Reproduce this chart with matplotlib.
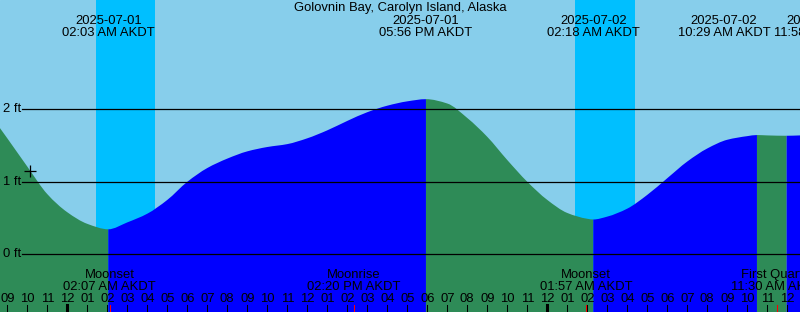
import numpy as np
import matplotlib
matplotlib.use("Agg")
import matplotlib.pyplot as plt
import matplotlib.transforms as mtransforms
from matplotlib.path import Path
from matplotlib.patches import PathPatch

plt.rcParams['font.family'] = ['Liberation Sans', 'DejaVu Sans']

# hours counted from 2025-07-01 00:00 AKDT
view_start, view_end = -3.365, 36.635

# tide level read roughly every hour (ft)
sample_hours = [-3.365, -3, -2, -1, 0, 1, 3, 4, 5, 6, 7, 8, 9, 10, 11, 12,
                13, 14, 15, 16, 17, 19, 20, 21, 22, 23, 24, 25, 26, 27,
                28, 29, 30, 31, 32, 33, 34, 35, 36.635]
sample_levels = [1.74, 1.60, 1.21, 0.83, 0.58, 0.42, 0.44, 0.56, 0.75,
                 1.00, 1.19, 1.32, 1.42, 1.48, 1.52, 1.60, 1.71, 1.84, 1.96,
                 2.05, 2.11, 2.08, 1.88, 1.62, 1.30, 1.00, 0.75, 0.57,
                 0.49, 0.52, 0.63, 0.82, 1.05, 1.28, 1.46, 1.58, 1.63, 1.64,
                 1.64]

# high / low events
event_hours = [2 + 3/60, 17 + 56/60, 24 + 2 + 18/60, 24 + 10 + 29/60, 24 + 11 + 58/60]
event_levels = [0.345, 2.14, 0.48, 1.645, 1.635]
event_dates = ["2025-07-01", "2025-07-01", "2025-07-02", "2025-07-02", "2025-07-02"]
event_times = ["02:03 AM AKDT", "05:56 PM AKDT", "02:18 AM AKDT", "10:29 AM AKDT", "11:58 AM AKDT"]
event_label_shift = [0, 0, 0, -1.65, 1.65]  # labels pushed apart when crowded

# night (between sunset and sunrise)
night_start = [1 + 26/60, 24 + 1 + 23/60]
night_end = [4 + 23/60, 24 + 4 + 23/60]

# moon events
moon_hours = [2 + 7/60, 14 + 20/60, 24 + 1 + 57/60, 24 + 11 + 30/60]
moon_names = ["Moonset", "Moonrise", "Moonset", "First Quarter"]
moon_times = ["02:07 AM AKDT", "02:20 PM AKDT", "01:57 AM AKDT", "11:30 AM AKDT"]

now_hour, now_level = -1.865, 1.15
depth_lines = [0, 1, 2]
title = "Golovnin Bay, Carolyn Island, Alaska"

W, H = 800, 312
FS = 9.4
y_bottom, y_top = -0.796, 3.508

fig = plt.figure(figsize=(W / 100, H / 100), dpi=100)
ax = fig.add_axes([0, 0, 1, 1])
ax.set_xlim(view_start, view_end)
ax.set_ylim(y_bottom, y_top)
ax.axis('off')
ax.add_patch(plt.Rectangle((0, 0), 1, 1, transform=ax.transAxes,
                           color='#87CEEB', zorder=0))

for s, e in zip(night_start, night_end):
    ax.axvspan(s, e, color='#00BFFF', lw=0, zorder=1)

# merge samples and events
hrs = np.array(sample_hours + event_hours)
lev = np.array(sample_levels + event_levels)
order = np.argsort(hrs)
hrs, lev = hrs[order], lev[order]

# smooth (monotone cubic) slopes for drawing the curve
dx = np.diff(hrs)
dy = np.diff(lev) / dx
slope = np.zeros_like(lev)
slope[0], slope[-1] = dy[0], dy[-1]
for i in range(1, len(lev) - 1):
    if dy[i - 1] * dy[i] > 0:
        w1 = 2 * dx[i] + dx[i - 1]
        w2 = dx[i] + 2 * dx[i - 1]
        slope[i] = (w1 + w2) / (w1 / dy[i - 1] + w2 / dy[i])
for eh in event_hours:
    slope[np.argmin(np.abs(hrs - eh))] = 0.0

bounds = [view_start] + event_hours + [view_end]
for b0, b1 in zip(bounds[:-1], bounds[1:]):
    idx = np.where((hrs >= b0 - 1e-9) & (hrs <= b1 + 1e-9))[0]
    verts = [(hrs[idx[0]], y_bottom - 1), (hrs[idx[0]], lev[idx[0]])]
    codes = [Path.MOVETO, Path.LINETO]
    for a, b in zip(idx[:-1], idx[1:]):
        d = hrs[b] - hrs[a]
        verts += [(hrs[a] + d / 3, lev[a] + slope[a] * d / 3),
                  (hrs[b] - d / 3, lev[b] - slope[b] * d / 3),
                  (hrs[b], lev[b])]
        codes += [Path.CURVE4] * 3
    verts += [(hrs[idx[-1]], y_bottom - 1), (0, 0)]
    codes += [Path.LINETO, Path.CLOSEPOLY]
    col = '#0000FF' if lev[idx[-1]] > lev[idx[0]] else '#2E8B57'
    ax.add_patch(PathPatch(Path(verts, codes), facecolor=col, lw=0, zorder=2))

ytrans = mtransforms.blended_transform_factory(ax.transAxes, ax.transData)
for d in depth_lines:
    ax.axhline(d, xmin=22 / W, xmax=1, color='black', lw=0.9, zorder=3)
    ax.text(3 / W, d, f"{d} ft", transform=ytrans, ha='left', va='center',
            fontsize=FS, zorder=4)

ax.plot([now_hour], [now_level], marker='+', color='black', ms=8, mew=0.9, zorder=4)

fy = lambda p: 1 - p / H
bt = mtransforms.blended_transform_factory(ax.transData, fig.transFigure)

fig.text(0.5, fy(11), title, ha='center', va='baseline', fontsize=FS)
for h, sh, d, t in zip(event_hours, event_label_shift, event_dates, event_times):
    ax.text(h + sh, fy(24), d, transform=bt, ha='center', va='baseline', fontsize=FS, zorder=5)
    ax.text(h + sh, fy(36), t, transform=bt, ha='center', va='baseline', fontsize=FS, zorder=5)

for h, n, t in zip(moon_hours, moon_names, moon_times):
    ax.text(h, fy(278), n, transform=bt, ha='center', va='baseline', fontsize=FS, zorder=5)
    ax.text(h, fy(290), t, transform=bt, ha='center', va='baseline', fontsize=FS, zorder=5)
    ax.axvline(h, ymin=0, ymax=7 / H, color='red', lw=0.75, zorder=5)

for h in range(-3, 37):
    lab = f"{(h % 12) or 12:02d}"
    ax.text(h, fy(302), lab, transform=bt, ha='center', va='baseline', fontsize=FS, zorder=5)
    midnight = h % 24 == 0
    ax.axvline(h, ymin=0, ymax=7 / H, color='black', lw=2.2 if midnight else 0.75, zorder=5)

fig.savefig("out.png", dpi=100)
